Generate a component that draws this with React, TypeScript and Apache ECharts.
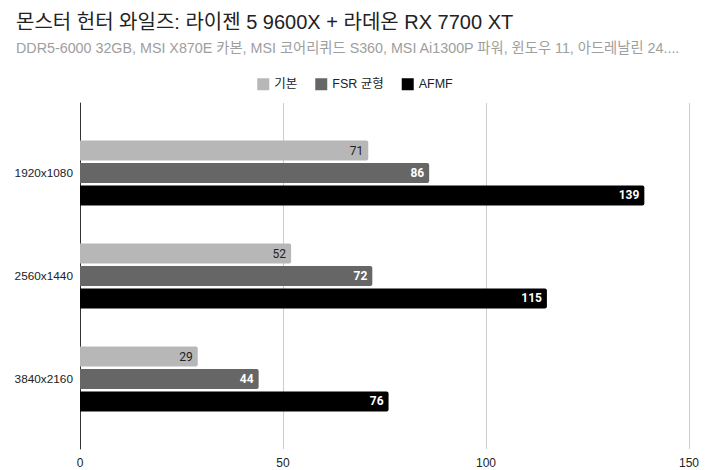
import React, { useEffect, useRef } from "react";
import * as echarts from "echarts";

const categories = ["1920x1080", "2560x1440", "3840x2160"];
const seriesNames = ["기본", "FSR 균형", "AFMF"];
const basicValues = [71, 52, 29];
const fsrValues = [86, 72, 44];
const afmfValues = [139, 115, 76];
const xTicks = [0, 50, 100, 150];

const colors = ["#b7b7b7", "#666666", "#000000"];
const labelColors = ["#222222", "#ffffff", "#ffffff"];
const FONT = "'Liberation Sans', Arial, 'Noto Sans CJK KR', sans-serif";
const LABEL_FONT = "Roboto, 'Liberation Sans', sans-serif";

export default function App() {
  const ref = useRef<HTMLDivElement>(null);
  useEffect(() => {
    if (!ref.current) return;
    const chart = echarts.init(ref.current, undefined, { renderer: "svg" });
    const values = [basicValues, fsrValues, afmfValues];
    const xMax = xTicks[xTicks.length - 1];
    chart.setOption({
      animation: false,
      textStyle: { fontFamily: FONT },
      title: {
        text: "몬스터 헌터 와일즈: 라이젠 5 9600X + 라데온 RX 7700 XT",
        subtext:
          "DDR5-6000 32GB, MSI X870E 카본, MSI 코어리퀴드 S360, MSI Ai1300P 파워, 윈도우 11, 아드레날린 24....",
        left: 16,
        top: 12,
        padding: 0,
        itemGap: 9,
        textStyle: { fontFamily: FONT, fontSize: 20, fontWeight: "normal", color: "#222" },
        subtextStyle: { fontFamily: FONT, fontSize: 14.3, color: "#9e9e9e" },
      },
      legend: {
        top: 73,
        left: "center",
        itemWidth: 12,
        itemHeight: 12,
        itemGap: 18,
        icon: "rect",
        textStyle: { fontFamily: FONT, fontSize: 12.5, color: "#222" },
        data: seriesNames,
      },
      grid: [
        { left: 80, right: 21, top: 103, bottom: 21, containLabel: false },
        { left: 80, right: 21, top: 121.5, bottom: 39.5, containLabel: false },
      ],
      xAxis: [
        {
          type: "value",
          gridIndex: 0,
          min: 0,
          max: xMax,
          interval: 50,
          axisLine: { show: false },
          axisTick: { show: false },
          splitLine: { show: true, lineStyle: { color: "#cccccc", width: 1 } },
          axisLabel: { color: "#222", fontSize: 12, fontFamily: FONT, margin: 8 },
        },
        {
          type: "value",
          gridIndex: 1,
          min: 0,
          max: xMax,
          show: false,
        },
      ],
      yAxis: [
        {
          type: "value",
          gridIndex: 0,
          min: 0,
          max: 1,
          axisLine: { show: true, lineStyle: { color: "#333", width: 1 } },
          axisTick: { show: false },
          axisLabel: { show: false },
          splitLine: { show: false },
        },
        {
          type: "category",
          gridIndex: 1,
          inverse: true,
          data: categories,
          axisLine: { show: false },
          axisTick: { show: false },
          axisLabel: { color: "#222", fontSize: 11.8, fontFamily: FONT, margin: 7 },
        },
      ],
      series: seriesNames.map((name, i) => ({
        name,
        type: "bar",
        xAxisIndex: 1,
        yAxisIndex: 1,
        data: values[i],
        barWidth: 20,
        barGap: "12%",
        itemStyle: { color: colors[i], borderRadius: [0, 2, 2, 0] },
        label: {
          show: true,
          position: "insideRight",
          distance: 5,
          color: labelColors[i],
          fontSize: 12,
          fontFamily: LABEL_FONT,
          fontWeight: i === 0 ? "normal" : "bold",
        },
      })),
    });
    return () => chart.dispose();
  }, []);
  return <div ref={ref} style={{ width: 710, height: 470, position: "absolute", left: 0, top: 0 }} />;
}
